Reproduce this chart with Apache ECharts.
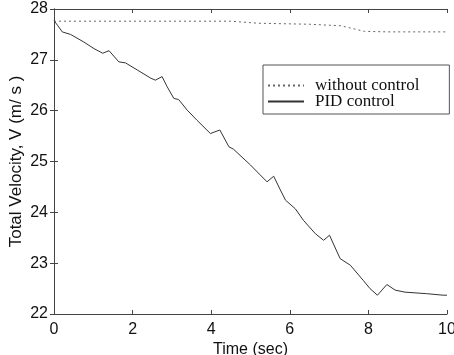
<!DOCTYPE html>
<html><head><meta charset="utf-8">
<script src="https://cdn.jsdelivr.net/npm/echarts@6/dist/echarts.min.js"></script>
<style>html,body{margin:0;padding:0;background:#fff}#c{width:454px;height:355px}</style>
</head><body><div id="c"></div>
<script>
const xTicks = [0, 2, 4, 6, 8, 10];
const yTicks = [22, 23, 24, 25, 26, 27, 28];
const seriesNames = ['without control', 'PID control'];
const noControlX = [0, 4.5, 5.2, 6.5, 7.3, 7.9, 8.5, 10];
const noControlY = [27.76, 27.76, 27.72, 27.70, 27.67, 27.56, 27.55, 27.55];
const pidX = [0, 0.09, 0.21, 0.42, 0.76, 1.02, 1.24, 1.40, 1.65, 1.82, 2.12, 2.46, 2.58, 2.75, 2.88, 3.05, 3.17, 3.39, 3.64, 3.98, 4.22, 4.45, 4.57, 5.00, 5.42, 5.59, 5.76, 5.89, 6.14, 6.35, 6.65, 6.86, 7.01, 7.28, 7.54, 7.87, 8.04, 8.23, 8.47, 8.68, 8.93, 9.48, 9.90, 10];
const pidY = [27.77, 27.68, 27.55, 27.50, 27.35, 27.22, 27.13, 27.18, 26.96, 26.94, 26.80, 26.64, 26.60, 26.67, 26.47, 26.24, 26.22, 26.01, 25.81, 25.55, 25.62, 25.29, 25.24, 24.93, 24.60, 24.71, 24.44, 24.24, 24.07, 23.84, 23.58, 23.45, 23.55, 23.09, 22.96, 22.66, 22.50, 22.37, 22.58, 22.47, 22.43, 22.40, 22.37, 22.37];

const zip = (a, b) => a.map((v, i) => [v, b[i]]);
const chart = echarts.init(document.getElementById('c'), null, {renderer: 'canvas'});
const axisLine = {show: true, lineStyle: {color: '#444', width: 1}};
const tick = {show: true, inside: true, length: 4, lineStyle: {color: '#444'}};
const lblFont = {fontFamily: 'Liberation Sans', fontSize: 16, color: '#111'};
chart.setOption({
  animation: false,
  backgroundColor: '#fff',
  grid: {left: 54, right: 7, top: 9, bottom: 41, containLabel: false, outerBoundsMode: 'none'},
  legend: {
    data: seriesNames,
    orient: 'vertical',
    left: 263, top: 65,
    width: 172,
    padding: [12, 30, 4, 4],
    itemGap: -1,
    itemWidth: 36, itemHeight: 12,
    borderColor: '#555', borderWidth: 1,
    itemStyle: {opacity: 0},
    textStyle: {fontFamily: 'Liberation Serif', fontSize: 17, color: '#111', padding: [0, 0, 0, 6]}
  },
  xAxis: [
    {type: 'value', min: xTicks[0], max: xTicks[xTicks.length - 1], interval: 2, position: 'bottom',
     name: 'Time (sec)', nameLocation: 'middle', nameGap: 28, nameMoveOverlap: false,
     nameTextStyle: {fontFamily: 'Liberation Sans', fontSize: 16, color: '#111'},
     axisLine: axisLine, axisTick: tick, splitLine: {show: false},
     axisLabel: Object.assign({margin: 8}, lblFont)},
    {type: 'value', min: xTicks[0], max: xTicks[xTicks.length - 1], interval: 2, position: 'top',
     axisLine: axisLine, axisTick: tick, splitLine: {show: false}, axisLabel: {show: false}}
  ],
  yAxis: [
    {type: 'value', min: yTicks[0], max: yTicks[yTicks.length - 1], interval: 1, position: 'left',
     name: 'Total Velocity, V (m/ s )', nameLocation: 'middle', nameGap: 29, nameMoveOverlap: false,
     nameTextStyle: {fontFamily: 'Liberation Sans', fontSize: 17, color: '#111'},
     axisLine: axisLine, axisTick: tick, splitLine: {show: false},
     axisLabel: Object.assign({margin: 6}, lblFont)},
    {type: 'value', min: yTicks[0], max: yTicks[yTicks.length - 1], interval: 1, position: 'right',
     axisLine: axisLine, axisTick: tick, splitLine: {show: false}, axisLabel: {show: false}}
  ],
  series: [
    {name: seriesNames[0], type: 'line', data: zip(noControlX, noControlY), symbol: 'none',
     lineStyle: {color: '#666', width: 1, type: [2, 3]}, itemStyle: {color: '#666'}},
    {name: seriesNames[1], type: 'line', data: zip(pidX, pidY), symbol: 'none',
     lineStyle: {color: '#333', width: 1}, itemStyle: {color: '#333'}}
  ]
});
</script></body></html>
